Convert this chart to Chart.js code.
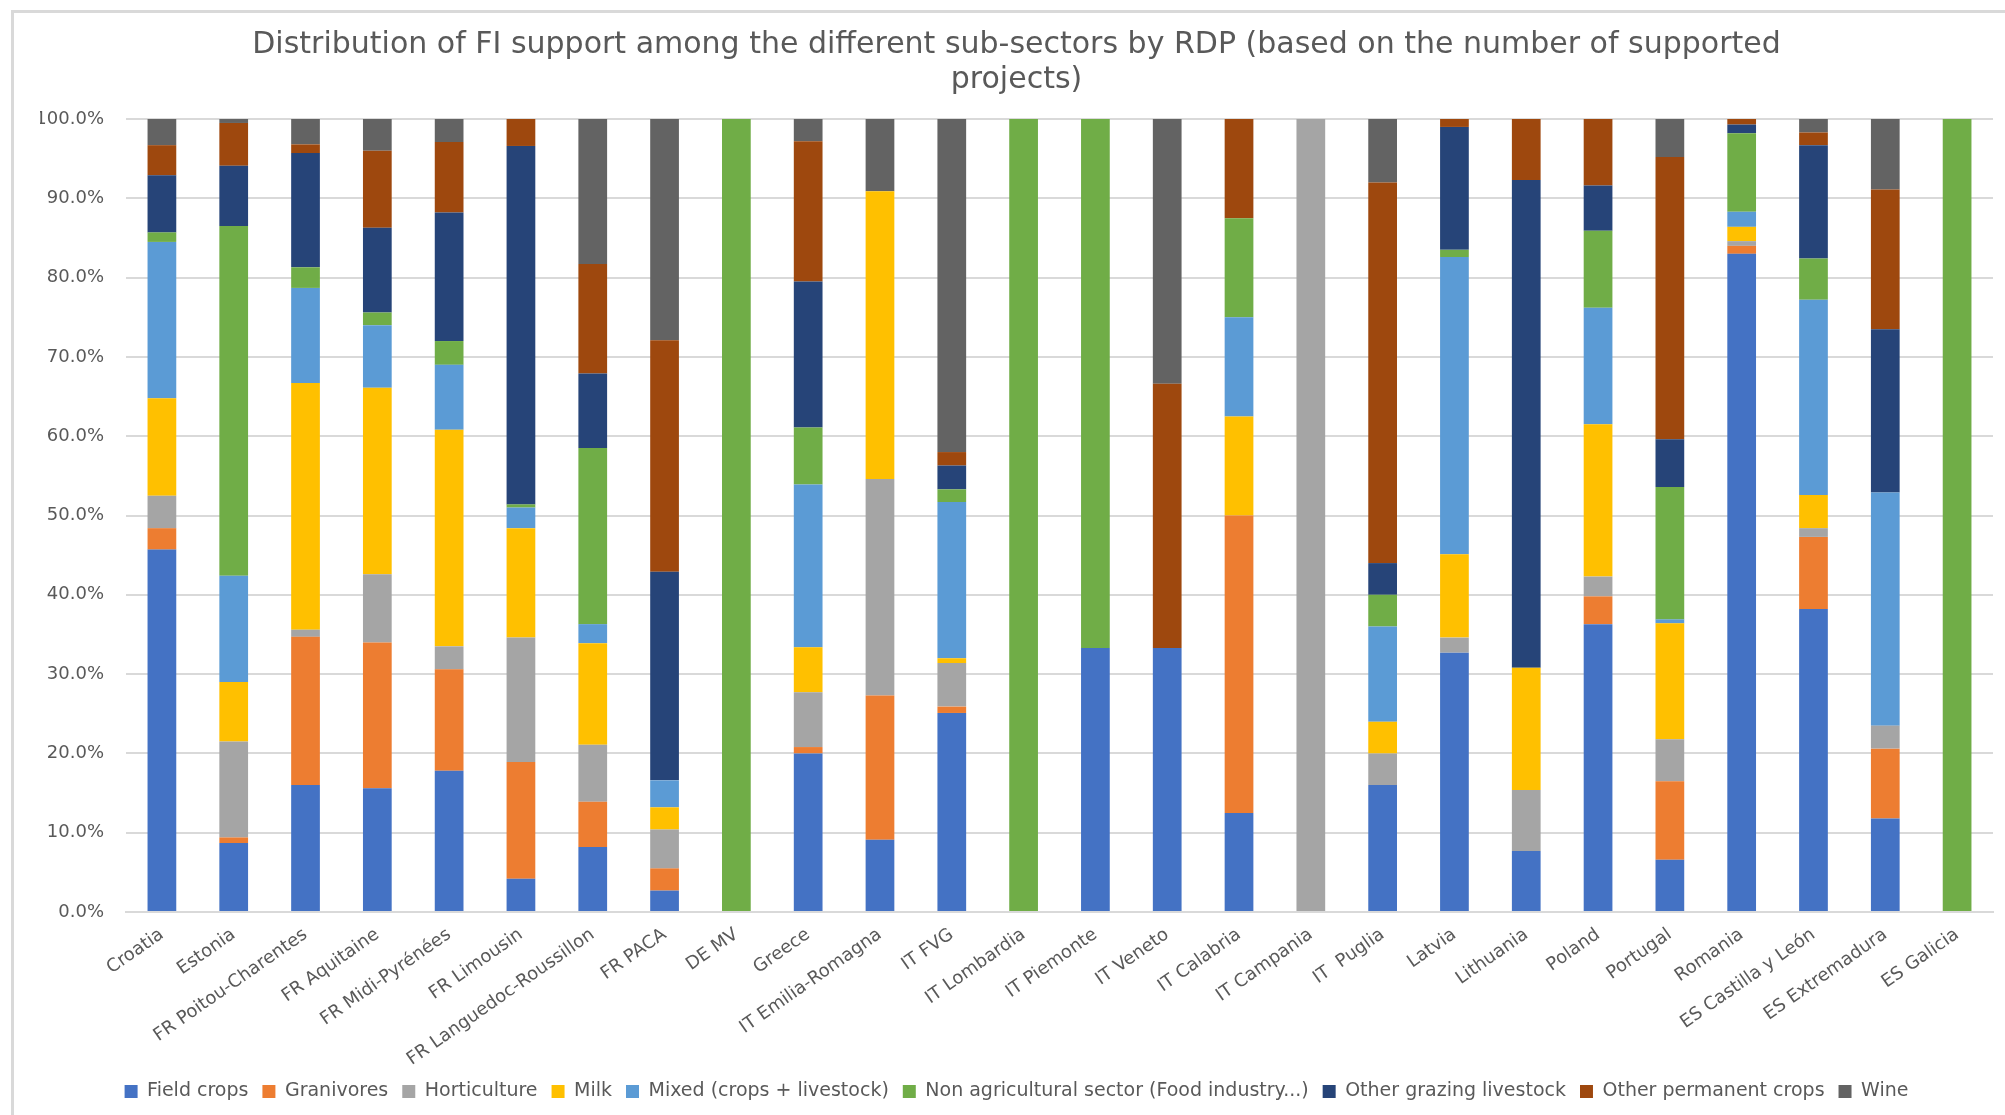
<!DOCTYPE html>
<html>
<head>
<meta charset="utf-8">
<title>Distribution of FI support by RDP</title>
<script src="https://cdn.jsdelivr.net/npm/chart.js@4.4.1/dist/chart.umd.min.js"></script>
<style>
    html, body { margin: 0; padding: 0; background: #ffffff; }
    #wrap {
        position: relative;
        width: 2005px;
        height: 1115px;
        overflow: hidden;
    }
    #frame {
        position: absolute;
        left: 11px;
        top: 10px;
        right: -10px;
        bottom: -10px;
        border-top: 3px solid #d9d9d9;
        border-left: 3px solid #d9d9d9;
        pointer-events: none;
    }
    canvas { position: absolute; left: 0; top: 0; }
</style>
</head>
<body>
<div id="wrap">
    <canvas id="fiChart" width="2005" height="1115"></canvas>
    <div id="frame"></div>
</div>
<script>
// Categories (RDPs)
const categories = [
    'Croatia', 'Estonia', 'FR Poitou-Charentes', 'FR Aquitaine', 'FR Midi-Pyrénées',
    'FR Limousin', 'FR Languedoc-Roussillon', 'FR PACA', 'DE MV', 'Greece',
    'IT Emilia-Romagna', 'IT FVG', 'IT Lombardia', 'IT Piemonte', 'IT Veneto',
    'IT Calabria', 'IT Campania', 'IT  Puglia', 'Latvia', 'Lithuania',
    'Poland', 'Portugal', 'Romania', 'ES Castilla y León', 'ES Extremadura', 'ES Galicia'
];

// Share of supported projects per sub-sector (%)
const fieldCrops     = [45.7, 8.7, 16.0, 15.6, 17.8, 4.2, 8.2, 2.7, 0, 20.0, 9.1, 25.1, 0, 33.3, 33.3, 12.5, 0, 16.0, 32.7, 7.7, 36.3, 6.6, 83.0, 38.2, 11.8, 0];
const granivores     = [2.7, 0.7, 18.7, 18.4, 12.8, 14.7, 5.7, 2.8, 0, 0.8, 18.2, 0.8, 0, 0, 0, 37.5, 0, 0, 0, 0, 3.5, 9.9, 1.0, 9.1, 8.8, 0];
const horticulture   = [4.1, 12.1, 0.9, 8.6, 2.9, 15.7, 7.2, 4.9, 0, 6.9, 27.3, 5.5, 0, 0, 0, 0, 100, 4.0, 1.9, 7.7, 2.5, 5.3, 0.6, 1.1, 2.9, 0];
const milk           = [12.3, 7.5, 31.1, 23.5, 27.3, 13.8, 12.8, 2.8, 0, 5.7, 36.3, 0.6, 0, 0, 0, 12.5, 0, 4.0, 10.5, 15.4, 19.2, 14.6, 1.8, 4.2, 0, 0];
const mixed          = [19.7, 13.4, 12.0, 7.9, 8.2, 2.6, 2.4, 3.4, 0, 20.5, 0, 19.7, 0, 0, 0, 12.5, 0, 12.0, 37.5, 0, 14.7, 0.5, 1.9, 24.6, 29.4, 0];
const nonAgri        = [1.2, 44.1, 2.6, 1.6, 3.0, 0.4, 22.2, 0, 100, 7.2, 0, 1.6, 100, 66.7, 0, 12.5, 0, 4.0, 0.9, 0, 9.7, 16.7, 9.9, 5.2, 0, 100];
const otherGrazing   = [7.2, 7.6, 14.4, 10.7, 16.2, 45.2, 9.4, 26.3, 0, 18.4, 0, 3.0, 0, 0, 0, 0, 0, 4.0, 15.5, 61.5, 5.7, 6.0, 1.1, 14.3, 20.6, 0];
const otherPermanent = [3.8, 5.4, 1.1, 9.7, 8.9, 3.4, 13.8, 29.2, 0, 17.7, 0, 1.7, 0, 0, 33.3, 12.5, 0, 48.0, 1.0, 7.7, 8.4, 35.6, 0.7, 1.6, 17.6, 0];
const wine           = [3.3, 0.5, 3.2, 4.0, 2.9, 0, 18.3, 27.9, 0, 2.8, 9.1, 42.0, 0, 0, 33.4, 0, 0, 8.0, 0, 0, 0, 4.8, 0, 1.7, 8.9, 0];

// Series names and colours (legend order)
const seriesNames = [
    'Field crops', 'Granivores', 'Horticulture', 'Milk', 'Mixed (crops + livestock)',
    'Non agricultural sector (Food industry...)', 'Other grazing livestock',
    'Other permanent crops', 'Wine'
];
const seriesData = [fieldCrops, granivores, horticulture, milk, mixed, nonAgri, otherGrazing, otherPermanent, wine];
const seriesColors = ['#4472C4', '#ED7D31', '#A5A5A5', '#FFC000', '#5B9BD5', '#70AD47', '#264478', '#9E480E', '#636363'];

// y-axis ticks
const yTicks = [0, 10, 20, 30, 40, 50, 60, 70, 80, 90, 100];

const FONT = "'DejaVu Sans', sans-serif";
const TEXT_COLOR = '#595959';

const datasets = seriesNames.map((name, i) => ({
    label: name,
    data: seriesData[i],
    backgroundColor: seriesColors[i],
    borderWidth: 0,
    categoryPercentage: 1.0,
    barPercentage: 0.4
}));

const ctx = document.getElementById('fiChart').getContext('2d');
new Chart(ctx, {
    type: 'bar',
    data: {
        labels: categories,
        datasets: datasets
    },
    options: {
        responsive: false,
        animation: false,
        layout: {
            padding: { left: 40, right: 12, top: 6, bottom: 4 }
        },
        scales: {
            x: {
                stacked: true,
                grid: { display: false },
                border: { display: true, color: '#d9d9d9', width: 2 },
                ticks: {
                    color: TEXT_COLOR,
                    font: { family: FONT, size: 18 },
                    minRotation: 35,
                    maxRotation: 35,
                    autoSkip: false,
                    padding: 4
                },
                afterFit(scale) { scale.height = 156; }
            },
            y: {
                stacked: true,
                min: 0,
                max: 100,
                afterBuildTicks(scale) {
                    scale.ticks = yTicks.map(v => ({ value: v }));
                },
                afterFit(scale) { scale.width = 86; },
                grid: { color: '#d9d9d9', lineWidth: 2, drawTicks: false },
                border: { display: false },
                ticks: {
                    color: TEXT_COLOR,
                    font: { family: FONT, size: 18 },
                    padding: 22,
                    callback: v => v.toFixed(1) + '%'
                }
            }
        },
        plugins: {
            title: {
                display: true,
                text: [
                    'Distribution of FI support among the different sub-sectors by RDP (based on the number of supported',
                    'projects)'
                ],
                color: TEXT_COLOR,
                font: { family: FONT, size: 30, weight: 'normal', lineHeight: 1.15 },
                padding: { top: 22, bottom: 22 }
            },
            legend: {
                display: true,
                position: 'bottom',
                labels: {
                    color: TEXT_COLOR,
                    font: { family: FONT, size: 19 },
                    boxWidth: 13,
                    boxHeight: 13,
                    padding: 14
                }
            },
            tooltip: { enabled: false }
        }
    }
});
</script>
</body>
</html>
